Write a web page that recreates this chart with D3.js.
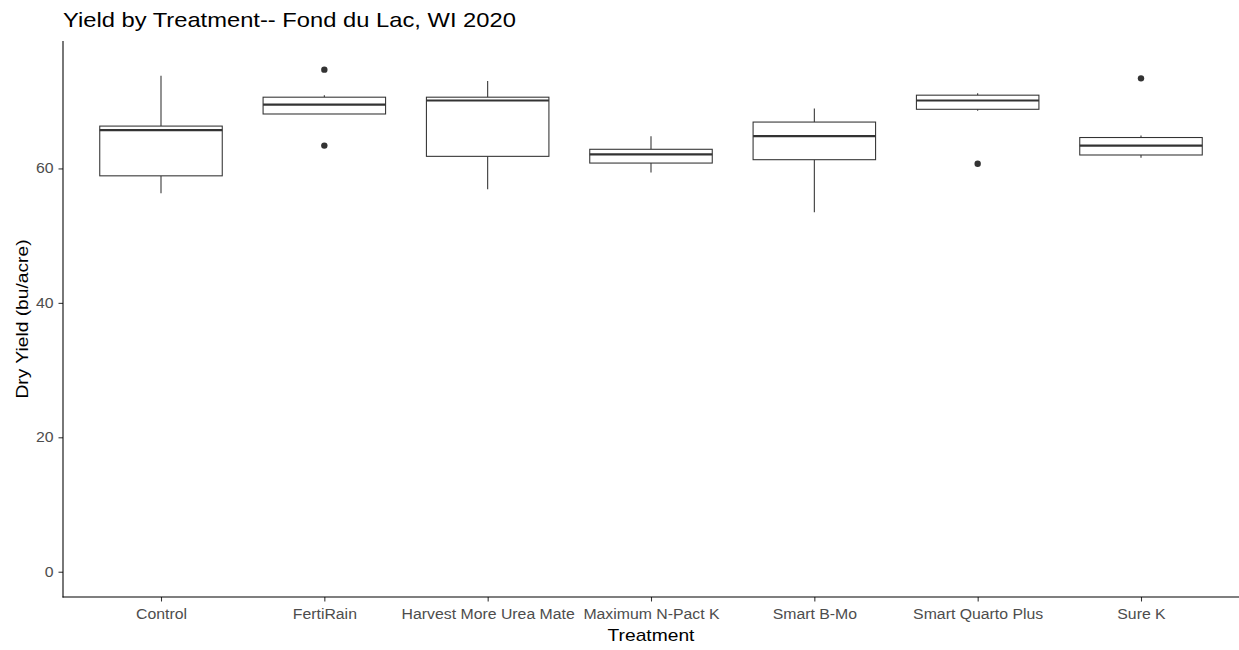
<!DOCTYPE html>
<html><head><meta charset="utf-8">
<script src="https://cdn.jsdelivr.net/npm/d3@7"></script>
<style>body{margin:0;background:#fff;}svg{display:block;font-family:"Liberation Sans",Arial,sans-serif;}</style>
</head><body><svg id="c" width="1239" height="650"></svg>
<script>
const categories = ["Control","FertiRain","Harvest More Urea Mate","Maximum N-Pact K","Smart B-Mo","Smart Quarto Plus","Sure K"];
const lowerWhisker = [56.3, 68.1, 56.9, 59.4, 53.5, 68.6, 61.6];
const q1 =           [58.9, 68.1, 61.8, 60.8, 61.3, 68.8, 62.0];
const median =       [65.7, 69.5, 70.1, 62.1, 64.8, 70.1, 63.4];
const q3 =           [66.3, 70.6, 70.6, 62.85, 66.9, 70.9, 64.6];
const upperWhisker = [73.8, 70.9, 73.0, 64.8, 68.9, 71.2, 64.9];
const outliers = [[], [74.7, 63.4], [], [], [], [60.7], [73.4]];
const yTicks = [0, 20, 40, 60];
const yLimits = [0, 75.2];

const svg = d3.select("#c");
const L = 63, R = 1239, T = 41, B = 597;
const ext = (yLimits[1]-yLimits[0])*0.05;
const y = d3.scaleLinear().domain([yLimits[0]-ext, yLimits[1]+ext]).range([B, T]);
const n = categories.length;
const step = (R - L) / (n - 1 + 1.2);
const x = d3.scalePoint().domain(categories).range([L + 0.6*step, R - 0.6*step]);
const bw = 0.75 * step;
const col = "#333333";
const STRETCH = 1.13;
function stretch(sel, k) {
  sel.each(function() {
    const w = this.getComputedTextLength();
    d3.select(this).attr("textLength", w * k).attr("lengthAdjust", "spacingAndGlyphs");
  });
}

// boxes
const g = svg.append("g");
categories.forEach((c, i) => {
  const cx = x(c);
  g.append("line").attr("x1", cx).attr("x2", cx).attr("y1", y(q3[i])).attr("y2", y(upperWhisker[i]))
    .attr("stroke", col).attr("stroke-width", 1.07);
  g.append("line").attr("x1", cx).attr("x2", cx).attr("y1", y(q1[i])).attr("y2", y(lowerWhisker[i]))
    .attr("stroke", col).attr("stroke-width", 1.07);
  g.append("rect").attr("x", cx - bw/2).attr("width", bw)
    .attr("y", y(q3[i])).attr("height", y(q1[i]) - y(q3[i]))
    .attr("fill", "#fff").attr("stroke", col).attr("stroke-width", 1.07);
  g.append("line").attr("x1", cx - bw/2).attr("x2", cx + bw/2).attr("y1", y(median[i])).attr("y2", y(median[i]))
    .attr("stroke", col).attr("stroke-width", 2.13);
  outliers[i].forEach(v => {
    g.append("circle").attr("cx", cx).attr("cy", y(v)).attr("r", 3.2).attr("fill", col);
  });
});

// axes
const yAxis = svg.append("g").attr("transform", `translate(${L},0)`)
  .call(d3.axisLeft(y).tickValues(yTicks).tickSize(4.5).tickPadding(5));
const xAxis = svg.append("g").attr("transform", `translate(0,${B})`)
  .call(d3.axisBottom(x).tickSize(4.5).tickPadding(8));
[yAxis, xAxis].forEach(a => {
  a.select(".domain").remove();
  a.selectAll(".tick line").attr("stroke", col).attr("stroke-width", 1.07);
  a.selectAll(".tick text").attr("fill", "#4D4D4D").style("font-size", "14px")
    .style("font-family", '"Liberation Sans",Arial,sans-serif');
  stretch(a.selectAll(".tick text"), STRETCH);
});
svg.append("line").attr("x1", L).attr("x2", L).attr("y1", T).attr("y2", B + 0.5).attr("stroke", "#000").attr("stroke-width", 1.07);
svg.append("line").attr("x1", L - 0.5).attr("x2", R).attr("y1", B).attr("y2", B).attr("stroke", "#000").attr("stroke-width", 1.07);

// titles
const t1 = svg.append("text").attr("x", L).attr("y", 27).text("Yield by Treatment-- Fond du Lac, WI 2020")
  .attr("fill", "#000").style("font-size", "21px");
stretch(t1, STRETCH);
const t2 = svg.append("text").attr("x", (L + R) / 2).attr("y", 641).attr("text-anchor", "middle").text("Treatment")
  .attr("fill", "#000").style("font-size", "17px");
stretch(t2, STRETCH);
const t3 = svg.append("text").attr("transform", `translate(28,${(T + B) / 2}) rotate(-90)`).attr("text-anchor", "middle")
  .text("Dry Yield (bu/acre)").attr("fill", "#000").style("font-size", "17px");
stretch(t3, STRETCH);
</script></body></html>
